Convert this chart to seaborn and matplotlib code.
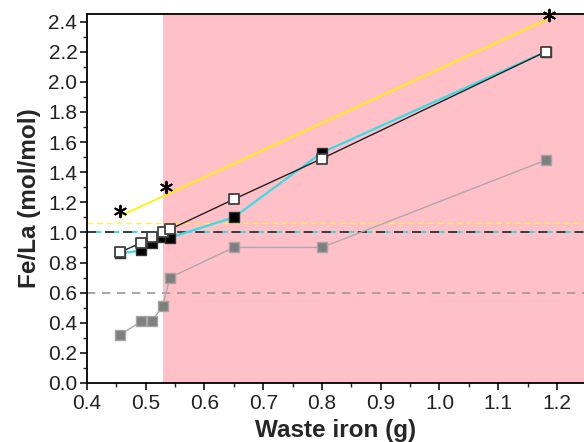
import matplotlib
matplotlib.use("Agg")
import matplotlib.pyplot as plt
import seaborn as sns
import pandas as pd
from matplotlib.ticker import MultipleLocator, FormatStrFormatter

# ---- data ----
x_iron = [0.457, 0.492, 0.510, 0.529, 0.541, 0.650, 0.800, 1.181]
open_sq = [0.87, 0.93, 0.97, 1.00, 1.02, 1.22, 1.49, 2.20]
black_sq = [0.86, 0.88, 0.93, 0.97, 0.965, 1.10, 1.53, 2.20]
gray_sq = [0.32, 0.41, 0.41, 0.51, 0.70, 0.90, 0.90, 1.48]
x_star = [0.457, 0.535, 1.186]
yellow_line = [1.11, 1.25, 2.42]
star_y = [1.145, 1.30, 2.445]
level_yellow = 1.065
level_black = 1.0
level_gray = 0.6
pink_start = 0.529

sns.set_style("ticks")
plt.rcParams["font.family"] = ["Liberation Sans", "DejaVu Sans"]

df = pd.DataFrame({"x": x_iron, "open": open_sq, "black": black_sq, "gray": gray_sq})
ds = pd.DataFrame({"x": x_star, "line": yellow_line, "star": star_y})

fig = plt.figure(figsize=(5.84, 4.42), dpi=100)
ax = fig.add_axes([87 / 584, 59 / 442, 1 - 87 / 584, (383 - 14) / 442])

ax.axvspan(pink_start, 1.3, color="#FFC0C8", zorder=0, lw=0)

ax.axhline(level_yellow, color="#FFF04A", lw=1.0, ls=(0, (4, 3)), zorder=1)
ax.axhline(level_gray, color="#9A9A9A", lw=1.2, ls=(0, (5, 4)), zorder=1)
ax.axhline(level_black, color="#35D8E0", lw=1.3, ls=(0, (8, 2)), zorder=1)
ax.axhline(level_black, color="#333333", lw=1.3, ls=(0, (5, 5)), zorder=1.1)

sns.lineplot(data=df, x="x", y="gray", ax=ax, sort=False, color="#AAAAAA", lw=1.0, zorder=2)
sns.lineplot(data=ds, x="x", y="line", ax=ax, sort=False, color="#FFF200", lw=1.3, zorder=3)
sns.lineplot(data=df, x="x", y="black", ax=ax, sort=False, color="#35DDE6", lw=1.6, zorder=3)
sns.lineplot(data=df, x="x", y="open", ax=ax, sort=False, color="#222222", lw=1.0, zorder=3.2)

sns.scatterplot(data=df, x="x", y="gray", ax=ax, marker="s", s=60, color="#7F7F7F",
                edgecolor="#A5A5A5", linewidth=1.0, zorder=4)
sns.scatterplot(data=df, x="x", y="black", ax=ax, marker="s", s=60, color="black",
                edgecolor="#333333", linewidth=1.0, zorder=5)
sns.scatterplot(data=df, x="x", y="open", ax=ax, marker="s", s=60, color="white",
                edgecolor="#404040", linewidth=1.3, zorder=6)
sns.scatterplot(data=ds, x="x", y="star", ax=ax, marker=(6, 2, 0), s=70, color="black",
                edgecolor="black", linewidth=1.4, zorder=7, clip_on=False)

ax.set_xlim(0.4, 1.246)
ax.set_ylim(0, 2.45)
ax.xaxis.set_major_locator(MultipleLocator(0.1))
ax.xaxis.set_minor_locator(MultipleLocator(0.05))
ax.yaxis.set_major_locator(MultipleLocator(0.2))
ax.yaxis.set_minor_locator(MultipleLocator(0.1))
ax.xaxis.set_major_formatter(FormatStrFormatter("%.1f"))
ax.yaxis.set_major_formatter(FormatStrFormatter("%.1f"))
ax.tick_params(which="major", direction="out", length=5, width=1.1, labelsize=15,
               colors="black", pad=2)
ax.tick_params(axis="x", which="major", pad=3)
ax.tick_params(which="minor", direction="out", length=3, width=1.0)
for lab in ax.get_xticklabels() + ax.get_yticklabels():
    lab.set_color("#222222")

for side in ["left", "bottom", "top"]:
    ax.spines[side].set_visible(True)
    ax.spines[side].set_linewidth(1.3)
    ax.spines[side].set_color("black")
ax.spines["right"].set_visible(False)

ax.set_xlabel("Waste iron (g)", fontsize=17.5, fontweight="bold", labelpad=4)
ax.set_ylabel("Fe/La (mol/mol)", fontsize=17.5, fontweight="bold", labelpad=5)

fig.savefig("out.png", dpi=100)
